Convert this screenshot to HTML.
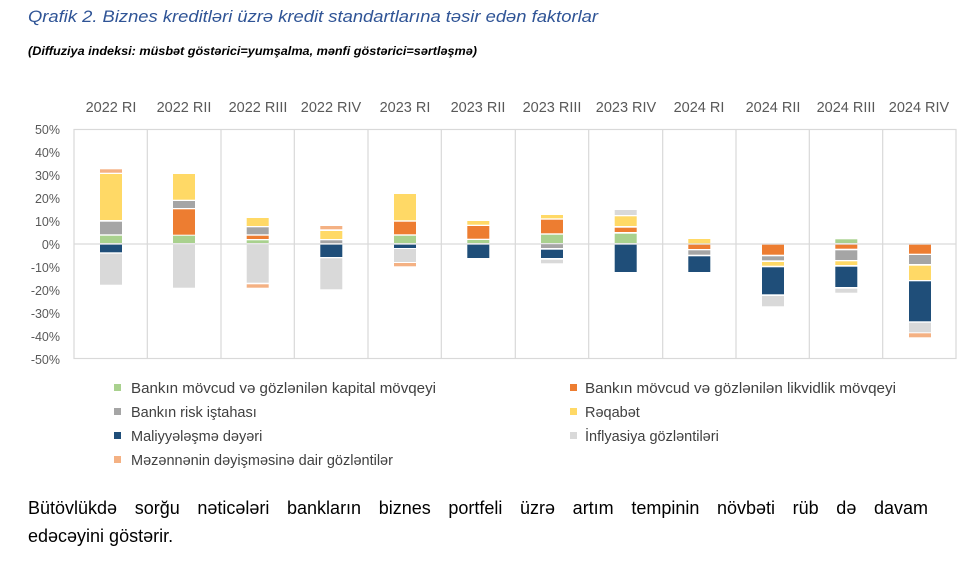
<!DOCTYPE html>
<html><head><meta charset="utf-8"><style>
html,body{margin:0;padding:0;background:#fff;width:976px;height:569px;overflow:hidden;position:relative}
svg{display:block}
.p{position:absolute;left:28px;width:900px;font-family:"Liberation Sans",sans-serif;font-size:18px;line-height:22px;color:#000;white-space:nowrap}
#l1{top:497px;text-align:justify;text-align-last:justify;white-space:normal}
#l2{top:525px}
</style></head><body>
<svg width="976" height="569" xmlns="http://www.w3.org/2000/svg" font-family="'Liberation Sans',sans-serif">
<text x="28" y="22" font-size="16.5" font-style="italic" fill="#2F5496" textLength="570" lengthAdjust="spacingAndGlyphs">Qrafik 2. Biznes kreditləri üzrə kredit standartlarına təsir edən faktorlar</text>
<text x="28" y="55" font-size="11.5" font-style="italic" font-weight="bold" fill="#000" textLength="449" lengthAdjust="spacingAndGlyphs">(Diffuziya indeksi: müsbət göstərici=yumşalma, mənfi göstərici=sərtləşmə)</text>
<g font-size="14.5" fill="#595959" text-anchor="middle">
<text x="111" y="112">2022 RI</text><text x="184" y="112">2022 RII</text><text x="258" y="112">2022 RIII</text><text x="331" y="112">2022 RIV</text><text x="405" y="112">2023 RI</text><text x="478" y="112">2023 RII</text><text x="552" y="112">2023 RIII</text><text x="626" y="112">2023 RIV</text><text x="699" y="112">2024 RI</text><text x="773" y="112">2024 RII</text><text x="846" y="112">2024 RIII</text><text x="919" y="112">2024 RIV</text>
</g>
<g font-size="12.5" fill="#595959" text-anchor="end">
<text x="60" y="134">50%</text><text x="60" y="157">40%</text><text x="60" y="180">30%</text><text x="60" y="203">20%</text><text x="60" y="226">10%</text><text x="60" y="249">0%</text><text x="60" y="272">-10%</text><text x="60" y="295">-20%</text><text x="60" y="318">-30%</text><text x="60" y="341">-40%</text><text x="60" y="364">-50%</text>
</g>
<g stroke="#D9D9D9" stroke-width="1.2" fill="none">
<rect x="74" y="129.5" width="882" height="229"/>
<path d="M147.3 129.5V358.5M221 129.5V358.5M294.3 129.5V358.5M368 129.5V358.5M441.3 129.5V358.5M515.3 129.5V358.5M588.7 129.5V358.5M662.7 129.5V358.5M736 129.5V358.5M809.3 129.5V358.5M882.7 129.5V358.5M74 244H956"/>
</g>
<g>
<rect x="100" y="169.3" width="22" height="3.4" fill="#F4B183"/><rect x="100" y="174" width="22" height="46" fill="#FFD966"/><rect x="100" y="221.7" width="22" height="12.6" fill="#A5A5A5"/><rect x="100" y="235.7" width="22" height="7.3" fill="#A9D18E"/><rect x="100" y="244.7" width="22" height="7.6" fill="#1F4E79"/><rect x="100" y="253.7" width="22" height="31" fill="#D9D9D9"/>
<rect x="173" y="174" width="22" height="25.7" fill="#FFD966"/><rect x="173" y="201" width="22" height="7" fill="#A5A5A5"/><rect x="173" y="209.3" width="22" height="25.4" fill="#ED7D31"/><rect x="173" y="235.7" width="22" height="7.3" fill="#A9D18E"/><rect x="173" y="244.7" width="22" height="43" fill="#D9D9D9"/>
<rect x="246.7" y="218" width="22" height="8" fill="#FFD966"/><rect x="246.7" y="227.3" width="22" height="7" fill="#A5A5A5"/><rect x="246.7" y="235.7" width="22" height="3.3" fill="#ED7D31"/><rect x="246.7" y="240.3" width="22" height="2.7" fill="#A9D18E"/><rect x="246.7" y="244.7" width="22" height="38" fill="#D9D9D9"/><rect x="246.7" y="284.3" width="22" height="3.4" fill="#F4B183"/>
<rect x="320.3" y="226" width="22" height="3.3" fill="#F4B183"/><rect x="320.3" y="231" width="22" height="8" fill="#FFD966"/><rect x="320.3" y="240.3" width="22" height="2.7" fill="#A5A5A5"/><rect x="320.3" y="244.7" width="22" height="12.3" fill="#1F4E79"/><rect x="320.3" y="258.3" width="22" height="31" fill="#D9D9D9"/>
<rect x="394" y="194" width="22" height="26.3" fill="#FFD966"/><rect x="394" y="221.7" width="22" height="12.6" fill="#ED7D31"/><rect x="394" y="235.7" width="22" height="7.3" fill="#A9D18E"/><rect x="394" y="244.7" width="22" height="3.3" fill="#1F4E79"/><rect x="394" y="249" width="22" height="13" fill="#D9D9D9"/><rect x="394" y="263" width="22" height="3.3" fill="#F4B183"/>
<rect x="467.3" y="221" width="22" height="3.7" fill="#FFD966"/><rect x="467.3" y="226" width="22" height="12.7" fill="#ED7D31"/><rect x="467.3" y="240" width="22" height="3" fill="#A9D18E"/><rect x="467.3" y="244.7" width="22" height="13.3" fill="#1F4E79"/>
<rect x="541" y="215" width="22" height="3.3" fill="#FFD966"/><rect x="541" y="219.7" width="22" height="13.6" fill="#ED7D31"/><rect x="541" y="234.7" width="22" height="8.3" fill="#A9D18E"/><rect x="541" y="244.3" width="22" height="3.7" fill="#A5A5A5"/><rect x="541" y="249.7" width="22" height="8.3" fill="#1F4E79"/><rect x="541" y="259.7" width="22" height="3.6" fill="#D9D9D9"/>
<rect x="614.7" y="210" width="22" height="5" fill="#D9D9D9"/><rect x="614.7" y="216.3" width="22" height="9.7" fill="#FFD966"/><rect x="614.7" y="227.7" width="22" height="4.3" fill="#ED7D31"/><rect x="614.7" y="233.7" width="22" height="9.3" fill="#A9D18E"/><rect x="614.7" y="244.7" width="22" height="27.3" fill="#1F4E79"/>
<rect x="688.3" y="239" width="22" height="4.3" fill="#FFD966"/><rect x="688.3" y="244.7" width="22" height="4.3" fill="#ED7D31"/><rect x="688.3" y="250.3" width="22" height="4.4" fill="#A5A5A5"/><rect x="688.3" y="256.3" width="22" height="15.7" fill="#1F4E79"/>
<rect x="762" y="244.7" width="22" height="10" fill="#ED7D31"/><rect x="762" y="256.3" width="22" height="4" fill="#A5A5A5"/><rect x="762" y="262" width="22" height="3.7" fill="#FFD966"/><rect x="762" y="267.3" width="22" height="27" fill="#1F4E79"/><rect x="762" y="296" width="22" height="10.3" fill="#D9D9D9"/>
<rect x="835.3" y="239.3" width="22" height="3.7" fill="#A9D18E"/><rect x="835.3" y="244.7" width="22" height="4" fill="#ED7D31"/><rect x="835.3" y="250.3" width="22" height="9.7" fill="#A5A5A5"/><rect x="835.3" y="261.3" width="22" height="3.7" fill="#FFD966"/><rect x="835.3" y="266.7" width="22" height="20.3" fill="#1F4E79"/><rect x="835.3" y="288.7" width="22" height="4" fill="#D9D9D9"/>
<rect x="909" y="244.7" width="22" height="9" fill="#ED7D31"/><rect x="909" y="255" width="22" height="9" fill="#A5A5A5"/><rect x="909" y="265.7" width="22" height="14.3" fill="#FFD966"/><rect x="909" y="281.3" width="22" height="40" fill="#1F4E79"/><rect x="909" y="322.7" width="22" height="9.6" fill="#D9D9D9"/><rect x="909" y="333.3" width="22" height="4" fill="#F4B183"/>
</g>
<g font-size="14.5" fill="#404040">
<rect x="114" y="384" width="7" height="7" fill="#A9D18E"/><text x="131" y="393" textLength="305" lengthAdjust="spacingAndGlyphs">Bankın mövcud və gözlənilən kapital mövqeyi</text>
<rect x="114" y="408" width="7" height="7" fill="#A5A5A5"/><text x="131" y="417">Bankın risk iştahası</text>
<rect x="114" y="432" width="7" height="7" fill="#1F4E79"/><text x="131" y="441">Maliyyələşmə dəyəri</text>
<rect x="114" y="456" width="7" height="7" fill="#F4B183"/><text x="131" y="465">Məzənnənin dəyişməsinə dair gözləntilər</text>
<rect x="570" y="384" width="7" height="7" fill="#ED7D31"/><text x="585" y="393" textLength="311" lengthAdjust="spacingAndGlyphs">Bankın mövcud və gözlənilən likvidlik mövqeyi</text>
<rect x="570" y="408" width="7" height="7" fill="#FFD966"/><text x="585" y="417">Rəqabət</text>
<rect x="570" y="432" width="7" height="7" fill="#D9D9D9"/><text x="585" y="441">İnflyasiya gözləntiləri</text>
</g>
</svg>
<div class="p" id="l1">Bütövlükdə sorğu nəticələri bankların biznes portfeli üzrə artım tempinin növbəti rüb də davam</div>
<div class="p" id="l2">edəcəyini göstərir.</div>
</body></html>
